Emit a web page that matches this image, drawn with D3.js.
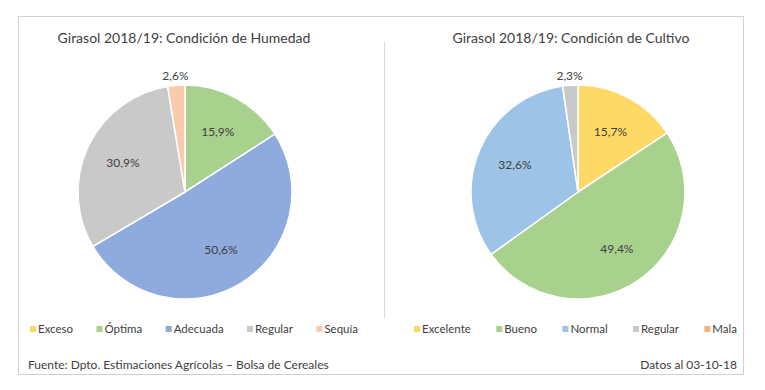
<!DOCTYPE html>
<head>
  <meta charset="utf-8">
  <script src="https://cdn.jsdelivr.net/npm/d3@7/dist/d3.min.js"></script>
  <style>
    body { margin:0; background:#fff; }
    text { font-family: Lato, "Liberation Sans", sans-serif; fill:#404040; }
  </style>
</head>
<body>
<script>
// chart 1: humedad
var humTitle = "Girasol 2018/19: Condición de Humedad";
var humCats = ["Exceso", "Óptima", "Adecuada", "Regular", "Sequía"];
var humVals = [0, 15.9, 50.6, 30.9, 2.6];
var humColors = ["#FFD966", "#A9D18E", "#8FAADC", "#C9C9C9", "#F8CBAD"];

// chart 2: cultivo
var culTitle = "Girasol 2018/19: Condición de Cultivo";
var culCats = ["Excelente", "Bueno", "Normal", "Regular", "Mala"];
var culVals = [15.7, 49.4, 32.6, 2.3, 0];
var culColors = ["#FFD966", "#A9D18E", "#9DC3E6", "#C9C9C9", "#F4B183"];

var source = "Fuente: Dpto. Estimaciones Agrícolas – Bolsa de Cereales";
var fecha = "Datos al 03-10-18";

var width = 765, height = 390;

var svg = d3.select("body").append("svg")
  .attr("width", width)
  .attr("height", height);

// outer frame
svg.append("rect")
  .attr("x", 18.5).attr("y", 16.5)
  .attr("width", 725).attr("height", 358)
  .attr("fill", "#fff")
  .attr("stroke", "#d0d0d0");

// divider
svg.append("line")
  .attr("x1", 384.5).attr("x2", 384.5)
  .attr("y1", 42).attr("y2", 318)
  .attr("stroke", "#d9d9d9");

var fmt = function(v) { return d3.format(".1f")(v).replace(".", ",") + "%"; };

function drawPie(cx, cy, r, title, titleX, cats, vals, colors, legX0, legX1) {
  var g = svg.append("g").attr("transform", "translate(" + cx + "," + cy + ")");

  var data = cats.map(function(c, i) { return { cat: c, value: vals[i], color: colors[i] }; });
  var pie = d3.pie().sort(null).value(function(d) { return d.value; });
  var arcs = pie(data).filter(function(d) { return d.data.value > 0; });

  var arc = d3.arc().innerRadius(0).outerRadius(r);
  var inLab = d3.arc().innerRadius(r * 0.64).outerRadius(r * 0.64);
  var outLab = d3.arc().innerRadius(r + 10).outerRadius(r + 10);

  g.selectAll("path")
    .data(arcs)
    .enter().append("path")
    .attr("d", arc)
    .attr("fill", function(d) { return d.data.color; })
    .attr("stroke", "#fff")
    .attr("stroke-width", 1.5);

  g.selectAll("text.lab")
    .data(arcs)
    .enter().append("text")
    .attr("class", "lab")
    .attr("transform", function(d) {
      var p = d.data.value > 5 ? inLab.centroid(d) : outLab.centroid(d);
      return "translate(" + p + ")";
    })
    .attr("text-anchor", "middle")
    .attr("dy", "0.35em")
    .style("font-size", "12px")
    .text(function(d) { return fmt(d.data.value); });

  svg.append("text")
    .attr("x", titleX).attr("y", 38)
    .attr("text-anchor", "middle")
    .attr("dy", "0.35em")
    .style("font-size", "14px")
    .text(title);

  // legend, spread between legX0 and legX1
  var items = cats.map(function(c, i) {
    var item = svg.append("g");
    item.append("rect")
      .attr("x", 0).attr("y", -3)
      .attr("width", 6).attr("height", 6)
      .attr("fill", colors[i]);
    var t = item.append("text")
      .attr("x", 8).attr("dy", "0.35em")
      .style("font-size", "11.5px")
      .text(c);
    return { g: item, w: 8 + t.node().getComputedTextLength() };
  });
  var total = d3.sum(items, function(d) { return d.w; });
  var gap = (legX1 - legX0 - total) / (items.length - 1);
  var x = legX0;
  items.forEach(function(it) {
    it.g.attr("transform", "translate(" + x + ",329)");
    x += it.w + gap;
  });
}

drawPie(185, 192, 107, humTitle, 184, humCats, humVals, humColors, 30, 358);
drawPie(578, 192, 107, culTitle, 571, culCats, culVals, culColors, 414, 737);

svg.append("text")
  .attr("x", 28).attr("y", 365)
  .attr("dy", "0.35em")
  .style("font-size", "12px")
  .text(source);

svg.append("text")
  .attr("x", 737).attr("y", 365)
  .attr("dy", "0.35em")
  .attr("text-anchor", "end")
  .style("font-size", "12px")
  .text(fecha);
</script>
</body>
